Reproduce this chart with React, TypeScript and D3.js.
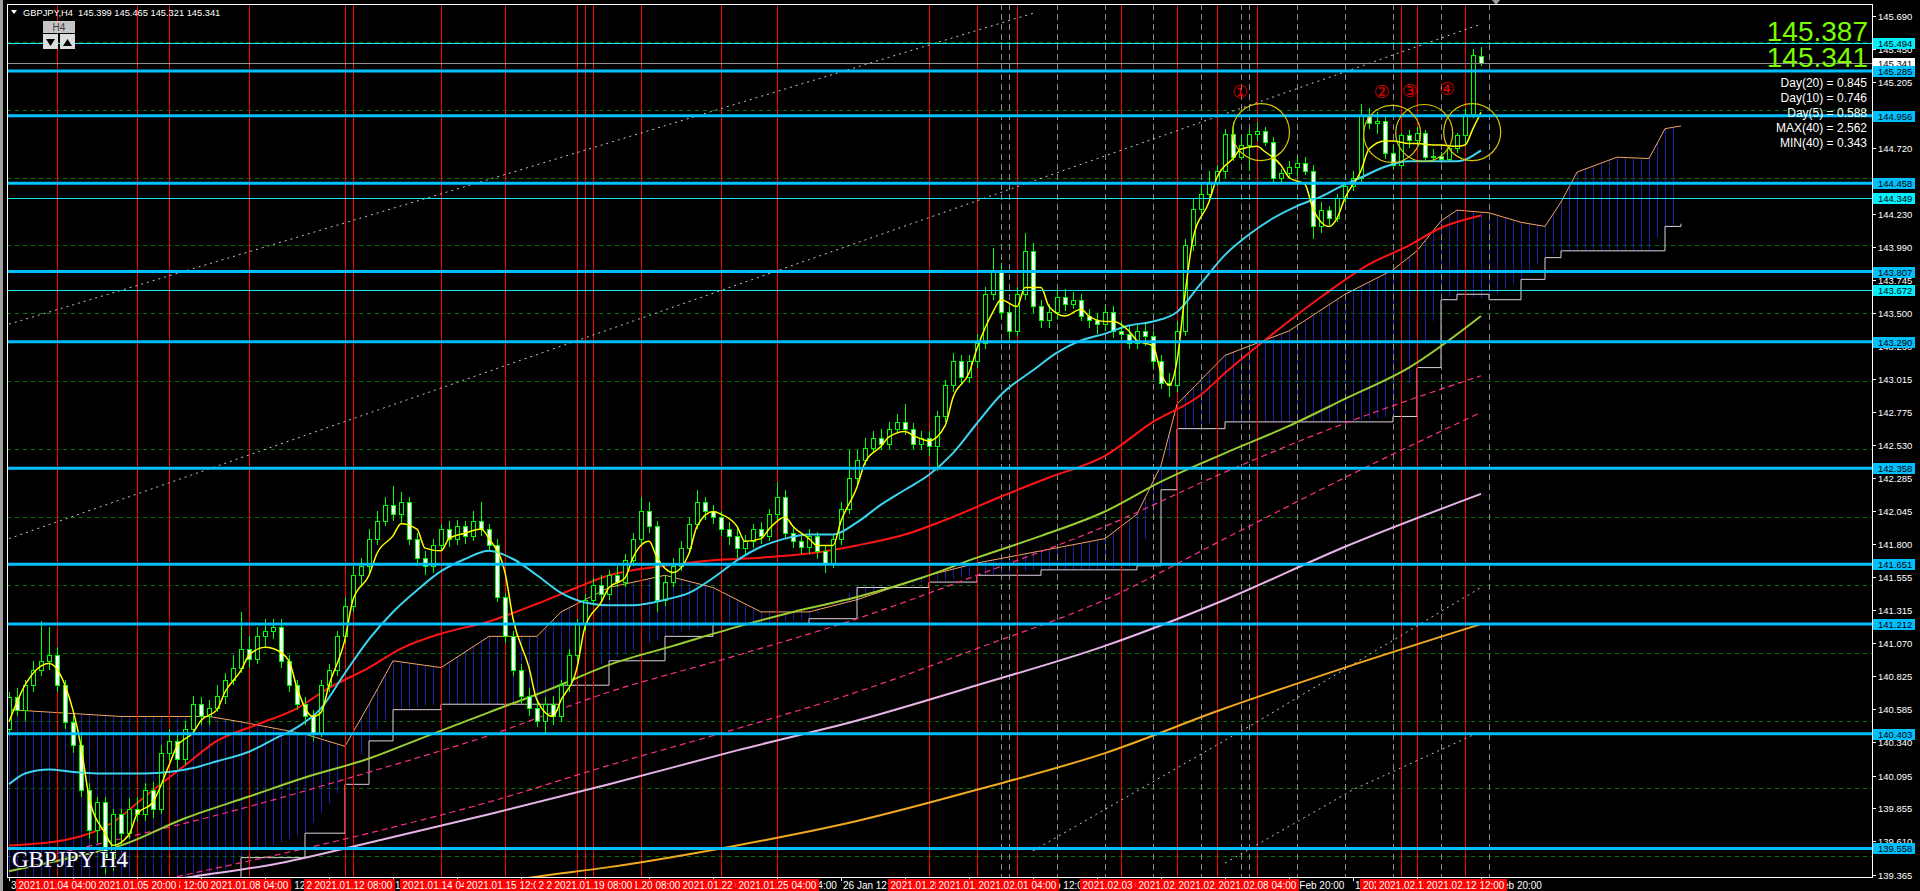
import React, { useEffect } from 'react';
import * as d3 from 'd3';

type OHLC = [number, number, number, number];
type Pt = [number, number];

// ---------- DATA ----------
// [open, high, low, close] per H4 bar, index 0 = 31 Dec 04:00, last = 12 Feb 20:00
const candles: OHLC[] = [
  [140.44,140.71,140.40,140.67],[140.67,140.74,140.53,140.58],[140.58,140.80,140.50,140.76],[140.76,140.94,140.71,140.87],
  [140.87,141.23,140.83,140.94],[140.94,141.19,140.87,140.98],[140.98,141.04,140.71,140.76],[140.76,140.80,140.44,140.49],
  [140.49,140.53,140.26,140.32],[140.32,140.40,139.94,139.99],[139.99,140.04,139.63,139.69],[139.69,139.94,139.60,139.90],
  [139.90,139.94,139.37,139.49],[139.49,139.85,139.39,139.81],[139.81,139.85,139.58,139.67],[139.67,139.93,139.63,139.85],
  [139.85,139.94,139.75,139.81],[139.81,140.04,139.76,139.99],[139.99,140.05,139.78,139.85],[139.85,140.32,139.81,140.26],
  [140.26,140.44,140.20,140.35],[140.35,140.40,140.14,140.22],[140.22,140.50,140.17,140.44],[140.44,140.68,140.40,140.62],
  [140.62,140.67,140.47,140.53],[140.53,140.65,140.47,140.59],[140.59,140.76,140.56,140.68],[140.68,140.85,140.62,140.80],
  [140.80,140.98,140.76,140.89],[140.89,141.30,140.85,141.03],[141.03,141.12,140.89,140.95],[140.95,141.19,140.92,141.12],
  [141.12,141.25,141.04,141.16],[141.16,141.25,141.10,141.19],[141.19,141.25,140.89,140.94],[140.94,140.98,140.71,140.76],
  [140.76,140.80,140.58,140.62],[140.62,140.67,140.47,140.53],[140.53,140.58,140.35,140.41],[140.41,140.80,140.38,140.76],
  [140.76,140.92,140.71,140.87],[140.87,141.16,140.83,141.12],[141.12,141.41,141.07,141.34],[141.34,141.64,141.30,141.57],
  [141.57,141.70,141.50,141.64],[141.64,141.91,141.59,141.84],[141.84,142.04,141.79,141.97],[141.97,142.15,141.93,142.09],
  [142.09,142.23,141.97,142.02],[142.02,142.18,141.95,142.11],[142.11,142.15,141.79,141.84],[141.84,141.88,141.64,141.70],
  [141.70,141.75,141.57,141.64],[141.64,141.84,141.59,141.79],[141.79,141.95,141.75,141.91],[141.91,141.97,141.78,141.84],
  [141.84,141.98,141.79,141.93],[141.93,141.97,141.80,141.86],[141.86,142.04,141.82,141.97],[141.97,142.11,141.86,141.91],
  [141.91,141.95,141.75,141.79],[141.79,141.84,141.37,141.41],[141.41,141.44,141.07,141.12],[141.12,141.16,140.83,140.87],
  [140.87,140.92,140.62,140.68],[140.68,140.74,140.53,140.59],[140.59,140.65,140.45,140.50],[140.50,140.67,140.40,140.62],
  [140.62,140.68,140.47,140.53],[140.53,140.80,140.49,140.76],[140.76,141.03,140.71,140.98],[140.98,141.25,140.94,141.21],
  [141.21,141.43,141.16,141.39],[141.39,141.55,141.34,141.50],[141.50,141.57,141.37,141.43],[141.43,141.61,141.39,141.57],
  [141.57,141.64,141.48,141.52],[141.52,141.73,141.48,141.68],[141.68,141.88,141.64,141.84],[141.84,142.15,141.79,142.04],
  [142.04,142.11,141.88,141.93],[141.93,141.97,141.30,141.39],[141.39,141.57,141.34,141.52],[141.52,141.70,141.48,141.64],
  [141.64,141.82,141.60,141.77],[141.77,142.00,141.73,141.95],[141.95,142.20,141.91,142.11],[142.11,142.15,141.98,142.04],
  [142.04,142.09,141.95,142.00],[142.00,142.04,141.86,141.91],[141.91,141.96,141.79,141.86],[141.86,141.91,141.70,141.77],
  [141.77,141.87,141.73,141.82],[141.82,141.95,141.77,141.91],[141.91,141.96,141.80,141.86],[141.86,142.06,141.82,142.02],
  [142.02,142.26,141.98,142.15],[142.15,142.20,141.84,141.88],[141.88,141.93,141.77,141.82],[141.82,141.87,141.73,141.78],
  [141.78,141.91,141.73,141.86],[141.86,141.89,141.69,141.75],[141.75,141.79,141.59,141.66],[141.66,141.87,141.62,141.84],
  [141.84,142.11,141.79,142.06],[142.06,142.49,142.02,142.29],[142.29,142.49,142.24,142.42],[142.42,142.58,142.38,142.51],
  [142.51,142.63,142.47,142.58],[142.58,142.65,142.49,142.54],[142.54,142.70,142.50,142.65],[142.65,142.76,142.61,142.70],
  [142.70,142.83,142.60,142.65],[142.65,142.69,142.50,142.54],[142.54,142.63,142.49,142.58],[142.58,142.63,142.45,142.52],
  [142.52,142.78,142.34,142.74],[142.74,143.01,142.70,142.97],[142.97,143.21,142.92,143.15],[143.15,143.19,142.98,143.03],
  [143.03,143.19,142.99,143.15],[143.15,143.35,143.10,143.28],[143.28,143.69,143.24,143.64],[143.64,143.98,143.60,143.82],
  [143.82,143.87,143.46,143.51],[143.51,143.55,143.32,143.37],[143.37,143.69,143.33,143.64],[143.64,144.09,143.60,143.96],
  [143.96,144.02,143.50,143.55],[143.55,143.60,143.39,143.45],[143.45,143.57,143.39,143.51],[143.51,143.68,143.46,143.62],
  [143.62,143.68,143.52,143.57],[143.57,143.66,143.53,143.60],[143.60,143.64,143.44,143.48],[143.48,143.53,143.39,143.45],
  [143.45,143.50,143.35,143.42],[143.42,143.55,143.37,143.51],[143.51,143.55,143.32,143.37],[143.37,143.44,143.30,143.35],
  [143.35,143.41,143.24,143.28],[143.28,143.42,143.24,143.37],[143.37,143.43,143.26,143.33],[143.33,143.37,143.10,143.15],
  [143.15,143.19,142.94,142.99],[142.99,143.06,142.88,142.97],[142.97,143.44,142.92,143.37],[143.37,144.05,143.33,144.00],
  [144.00,144.35,143.96,144.27],[144.27,144.46,144.23,144.38],[144.38,144.55,144.35,144.47],[144.47,144.59,144.44,144.55],
  [144.55,144.86,144.50,144.82],[144.82,144.91,144.62,144.65],[144.65,144.80,144.64,144.74],[144.74,144.86,144.55,144.82],
  [144.82,144.91,144.77,144.84],[144.84,144.87,144.73,144.76],[144.76,144.80,144.47,144.50],[144.50,144.56,144.46,144.53],
  [144.53,144.62,144.49,144.58],[144.58,144.65,144.51,144.61],[144.61,144.65,144.52,144.55],[144.55,144.59,144.05,144.14],
  [144.14,144.32,144.09,144.26],[144.26,144.29,144.15,144.20],[144.20,144.38,144.17,144.35],[144.35,144.47,144.31,144.44],
  [144.44,144.55,144.40,144.50],[144.50,145.04,144.47,144.95],[144.95,145.01,144.86,144.90],[144.90,144.98,144.82,144.92],
  [144.92,144.95,144.64,144.68],[144.68,144.74,144.56,144.59],[144.59,144.83,144.56,144.81],[144.81,144.85,144.72,144.78],
  [144.78,144.87,144.74,144.83],[144.83,144.85,144.62,144.65],[144.65,144.71,144.62,144.66],[144.66,144.69,144.61,144.64],
  [144.64,144.74,144.62,144.72],[144.72,144.83,144.68,144.81],[144.81,145.01,144.74,144.97],[144.97,145.45,144.94,145.40],
  [145.399,145.465,145.321,145.341],
];

// moving averages: [bar index, price]
const maYellow: Pt[] = [[0,140.49],[2,140.76],[5,140.92],[7,140.76],[9,140.31],[10,139.94],[12,139.67],[13,139.58],[15,139.66],[16,139.81],[18,139.90],[20,140.17],[21,140.31],[23,140.41],[24,140.50],[26,140.58],[27,140.71],[29,140.87],[30,140.98],[32,141.04],[33,141.03],[35,140.94],[36,140.74],[38,140.53],[39,140.56],[40,140.76],[42,141.10],[43,141.39],[45,141.57],[46,141.73],[48,141.86],[49,141.95],[51,141.91],[52,141.77],[54,141.75],[55,141.84],[57,141.88],[59,141.91],[60,141.84],[62,141.59],[63,141.25],[65,140.89],[66,140.65],[68,140.53],[69,140.65],[71,140.89],[72,141.19],[74,141.37],[75,141.48],[77,141.55],[78,141.70],[80,141.82],[81,141.70],[83,141.59],[85,141.73],[86,141.93],[88,142.04],[89,142.02],[91,141.93],[92,141.82],[94,141.84],[95,141.91],[97,142.00],[98,141.93],[100,141.84],[101,141.79],[103,141.79],[104,141.97],[106,142.22],[107,142.40],[109,142.52],[110,142.59],[112,142.63],[113,142.60],[115,142.56],[117,142.67],[118,142.88],[120,143.06],[121,143.24],[123,143.51],[124,143.60],[126,143.55],[127,143.69],[129,143.69],[130,143.55],[132,143.48],[134,143.53],[135,143.48],[137,143.44],[138,143.44],[140,143.37],[141,143.30],[143,143.26],[144,143.06],[145,142.97],[146,143.15],[147,143.64],[148,144.05],[150,144.32],[151,144.50],[153,144.64],[154,144.71],[156,144.73],[157,144.69],[159,144.59],[160,144.50],[162,144.45],[163,144.27],[165,144.14],[166,144.20],[167,144.35],[169,144.55],[170,144.71],[172,144.77],[173,144.77],[175,144.75],[176,144.75],[178,144.74],[179,144.74],[181,144.73],[182,144.74],[183,144.86],[184,144.98]];
const maCyan: Pt[] = [[0,140.03],[2,140.11],[5,140.14],[8,140.12],[11,140.11],[14,140.11],[17,140.11],[20,140.12],[23,140.15],[26,140.20],[30,140.27],[33,140.36],[36,140.45],[39,140.59],[42,140.85],[45,141.10],[48,141.30],[51,141.46],[54,141.60],[57,141.69],[60,141.75],[63,141.69],[66,141.57],[69,141.44],[72,141.37],[75,141.35],[78,141.35],[82,141.39],[85,141.44],[88,141.55],[91,141.68],[94,141.78],[97,141.84],[100,141.87],[103,141.87],[106,141.96],[109,142.09],[112,142.20],[115,142.31],[118,142.47],[121,142.69],[124,142.90],[128,143.08],[131,143.21],[134,143.30],[137,143.35],[140,143.41],[143,143.44],[146,143.51],[149,143.72],[152,143.93],[155,144.08],[158,144.20],[161,144.29],[164,144.36],[167,144.45],[169,144.50],[172,144.58],[175,144.62],[178,144.62],[181,144.62],[184,144.70]];
const maRed: Pt[] = [[0,139.58],[7,139.62],[13,139.75],[17,139.94],[22,140.17],[26,140.35],[31,140.47],[36,140.59],[40,140.74],[45,140.89],[49,141.03],[54,141.14],[60,141.23],[66,141.36],[71,141.48],[75,141.57],[82,141.64],[88,141.68],[94,141.70],[100,141.73],[106,141.79],[112,141.87],[118,142.00],[124,142.15],[130,142.29],[137,142.45],[143,142.70],[149,142.90],[152,143.06],[158,143.35],[164,143.62],[170,143.86],[175,144.00],[179,144.13],[184,144.22]];
const maYellowGreen: Pt[] = [[0,139.39],[7,139.48],[14,139.58],[22,139.78],[30,139.94],[37,140.08],[45,140.22],[52,140.38],[60,140.56],[68,140.74],[75,140.91],[83,141.05],[91,141.19],[98,141.30],[106,141.41],[114,141.55],[121,141.70],[129,141.86],[137,142.04],[144,142.26],[152,142.47],[160,142.67],[167,142.87],[175,143.10],[184,143.48]];
const maPlum: Pt[] = [[15,139.28],[23,139.35],[33,139.44],[45,139.60],[60,139.81],[75,140.03],[91,140.28],[106,140.50],[121,140.76],[137,141.05],[152,141.39],[167,141.78],[184,142.17]];
const maOrange: Pt[] = [[58,139.28],[66,139.35],[75,139.42],[91,139.58],[106,139.76],[121,139.99],[137,140.26],[152,140.59],[167,140.89],[184,141.21]];
const maPinkUpper: Pt[] = [[6,139.52],[29,139.85],[45,140.12],[60,140.39],[75,140.71],[91,140.98],[106,141.25],[121,141.57],[137,141.93],[152,142.33],[167,142.69],[184,143.04]];
const maPinkLower: Pt[] = [[21,139.35],[45,139.67],[60,139.90],[75,140.17],[91,140.44],[106,140.71],[121,141.03],[137,141.39],[152,141.84],[167,142.29],[184,142.77]];
const dotUpper1: Pt[] = [[0,143.42],[63,144.54],[128,145.71]];
const dotUpper2: Pt[] = [[0,141.84],[92,143.73],[184,145.63]];
const dotLower1: Pt[] = [[128,139.54],[156,140.49],[184,141.48]];
const dotLower2: Pt[] = [[152,139.45],[168,139.99],[184,140.42]];

// Ichimoku cloud: [bar index, senkou A, senkou B]
const cloud: [number, number, number][] = [
  [0,140.58,139.31],[14,140.53,139.31],[25,140.53,139.31],[29,140.49,139.49],[37,140.40,139.67],[42,140.31,140.03],
  [45,140.62,140.35],[48,140.94,140.58],[54,140.89,140.62],[60,141.12,140.62],[66,141.12,140.62],[69,141.30,140.76],
  [75,141.48,140.94],[82,141.57,141.12],[88,141.48,141.21],[94,141.30,141.21],[100,141.30,141.25],[106,141.39,141.48],
  [115,141.57,141.52],[121,141.66,141.57],[129,141.75,141.61],[137,141.84,141.61],[141,142.02,141.64],[144,142.38,142.20],
  [146,142.83,142.65],[152,143.19,142.70],[160,143.37,142.70],[167,143.64,142.70],[173,143.82,142.74],[176,143.96,143.10],
  [179,144.18,143.60],[181,144.26,143.64],[185,144.24,143.60],[189,144.17,143.75],[192,144.14,143.91],[194,144.32,143.96],
  [196,144.54,143.96],[201,144.65,143.96],[205,144.64,143.96],[207,144.86,144.14],[209,144.88,144.16],
];

const priceTicks = [145.690,145.450,145.205,144.965,144.720,144.475,144.230,143.990,143.745,143.500,143.260,143.015,142.775,142.530,142.285,142.045,141.800,141.555,141.315,141.070,140.825,140.585,140.340,140.095,139.855,139.610,139.365];
const thickLevels = [145.285,144.956,144.458,143.807,143.290,142.358,141.651,141.212,140.403,139.558];
const thinLevels = [145.494,144.349,143.672];
const roundLevels = [145.5,145.0,144.5,144.0,143.5,143.0,142.5,142.0,141.5,141.0,140.5,140.0,139.5];
const currentPrice = 145.341;

const axisLabelIdx = [0,8,16,24,32,40,48,56,64,72,80,88,96,104,112,120,128,136,144,152,160,168,176,184];
const axisLabels = ['31 Dec 04:00','4 Jan 12:00','5 Jan 20:00','7 Jan 04:00','8 Jan 12:00','11 Jan 20:00','13 Jan 04:00','14 Jan 12:00','15 Jan 20:00','19 Jan 04:00','20 Jan 12:00','21 Jan 20:00','25 Jan 04:00','26 Jan 12:00','27 Jan 20:00','29 Jan 04:00','1 Feb 12:00','2 Feb 20:00','4 Feb 04:00','5 Feb 12:00','8 Feb 20:00','10 Feb 04:00','11 Feb 12:00','12 Feb 20:00'];

const markerIdx = [6,20,16,30,42,43,54,62,71,72,79,73,89,96,115,121,126,139,146,151,156,174,176,182];
const markerLabels = ['2021.01.04 04:00','2021.01.06 12:00','2021.01.05 20:00','2021.01.08 04:00','2021.01.12 04:00','2021.01.12 08:00','2021.01.14 04:00','2021.01.15 12:00','2021.01.19 00:00','2021.01.19 04:00','2021.01.20 08:00','2021.01.19 08:00','2021.01.22 00:00','2021.01.25 04:00','2021.01.28 08:00','2021.01.29 08:00','2021.02.01 04:00','2021.02.03 08:00','2021.02.04 12:00','2021.02.05 08:00','2021.02.08 04:00','2021.02.11 04:00','2021.02.11 12:00','2021.02.12 12:00'];
const separatorIdx = [124,125,131,137,143,149,154,155,161,167,173,179,185];

const circleIdx = [156.5,172.9,176.9,182.9];
const circlePrice = [144.835,144.821,144.828,144.835];
const circleNums = ['①','②','③','④'];
const numIdx = [153.9,171.6,175.1,179.75];
const numPrice = [145.13,145.13,145.137,145.152];

const headerText = 'GBPJPY,H4  145.399 145.465 145.321 145.341';
const bigPrices = ['145.387','145.341'];
const infoLines = ['Day(20) = 0.845','Day(10) = 0.746','Day(5) = 0.588','MAX(40) = 2.562','MIN(40) = 0.343'];

// ---------- CHART ----------
const L = 7, R = 1872, T = 4, B = 877;
const FONT = '"Liberation Sans", Arial, sans-serif';

export default function App() {
  useEffect(() => {
    document.body.style.margin = '0';
    document.body.style.background = '#000';
  }, []);

  const x = d3.scaleLinear().domain([0, 184]).range([9, 1481]);
  const y = d3.scaleLinear().domain([139.365, 145.69]).range([874.6, 16]);

  const line = d3.line<Pt>().x(d => x(d[0])).y(d => y(d[1])).curve(d3.curveMonotoneX);
  const straight = d3.line<Pt>().x(d => x(d[0])).y(d => y(d[1]));
  const area = d3.area<[number, number, number]>().x(d => x(d[0])).y0(d => y(d[2])).y1(d => y(d[1]));
  const spanA = d3.line<[number, number, number]>().x(d => x(d[0])).y(d => y(d[1]));
  const spanB = d3.line<[number, number, number]>().x(d => x(d[0])).y(d => y(d[2])).curve(d3.curveStepAfter);

  const labelBox = (p: number, fill: string, key: string, text: string) => (
    <g key={key}>
      <rect x={1873} y={Math.round(y(p)) - 5} width={42} height={11} fill={fill} />
      <text x={1878} y={Math.round(y(p)) + 4} fontSize={9.5} fill="#000">{text}</text>
    </g>
  );

  return (
    <svg width={1920} height={891} style={{ display: 'block', background: '#000' }} fontFamily={FONT}>
      <defs>
        <clipPath id="plotClip"><rect x={L} y={T} width={R - L} height={B - T} /></clipPath>
        <pattern id="hatch" patternUnits="userSpaceOnUse" x={9} y={0} width={8} height={8}>
          <rect x={0} y={0} width={1} height={8} fill="#1e1ea6" />
        </pattern>
      </defs>
      <rect x={0} y={0} width={1920} height={891} fill="#000" />
      <rect x={0} y={0} width={3} height={891} fill="#a0a0a0" />

      <g clipPath="url(#plotClip)">
        {roundLevels.map(p => (
          <line key={'g' + p} x1={L} x2={R} y1={Math.round(y(p)) + 0.5} y2={Math.round(y(p)) + 0.5} stroke="#007a00" strokeDasharray="4 4" />
        ))}
        <path d={area(cloud) || ''} fill="url(#hatch)" />
        <path d={spanA(cloud) || ''} fill="none" stroke="#f4a460" strokeWidth={1} />
        <path d={spanB(cloud) || ''} fill="none" stroke="#e0d0e0" strokeWidth={1} />

        {separatorIdx.map(i => (
          <line key={'s' + i} x1={x(i) + 0.5} x2={x(i) + 0.5} y1={T} y2={B} stroke="#8a8a8a" strokeDasharray="6 4" />
        ))}
        {markerIdx.map(i => (
          <line key={'m' + i} x1={x(i) + 0.5} x2={x(i) + 0.5} y1={T} y2={B} stroke="#ff0000" />
        ))}

        {[dotUpper1, dotUpper2, dotLower1, dotLower2].map((d, k) => (
          <path key={'d' + k} d={straight(d) || ''} fill="none" stroke="#c8c8c8" strokeDasharray="2 4" />
        ))}
        <path d={line(maPinkUpper) || ''} fill="none" stroke="#ff2d8c" strokeWidth={1.2} strokeDasharray="6 4" />
        <path d={line(maPinkLower) || ''} fill="none" stroke="#ff2d8c" strokeWidth={1.2} strokeDasharray="6 4" />
        <path d={line(maOrange) || ''} fill="none" stroke="#f0a820" strokeWidth={2} />
        <path d={line(maPlum) || ''} fill="none" stroke="#e8b4e8" strokeWidth={2} />
        <path d={line(maYellowGreen) || ''} fill="none" stroke="#9acd32" strokeWidth={2} />
        <path d={line(maRed) || ''} fill="none" stroke="#ff1414" strokeWidth={2} />

        {candles.map((c, i) => {
          const [o, h, l, cl] = c;
          const cx = x(i);
          const top = Math.round(y(Math.max(o, cl)));
          const bot = Math.round(y(Math.min(o, cl)));
          return (
            <g key={'c' + i} shapeRendering="crispEdges">
              <line x1={cx + 0.5} x2={cx + 0.5} y1={Math.round(y(h))} y2={Math.round(y(l))} stroke="#00ff00" />
              <rect x={cx - 1.5} y={top + 0.5} width={4} height={Math.max(bot - top, 1)} fill={cl >= o ? '#000' : '#fff'} stroke="#00ff00" />
            </g>
          );
        })}

        <path d={line(maCyan) || ''} fill="none" stroke="#3cd4f0" strokeWidth={2} />
        <path d={line(maYellow) || ''} fill="none" stroke="#ffff00" strokeWidth={1.5} />

        <line x1={L} x2={R} y1={Math.round(y(currentPrice)) + 0.5} y2={Math.round(y(currentPrice)) + 0.5} stroke="#909090" />
        {thinLevels.map(p => (
          <line key={'t' + p} x1={L} x2={R} y1={Math.round(y(p)) + 0.5} y2={Math.round(y(p)) + 0.5} stroke="#16e6f0" />
        ))}
        {thickLevels.map(p => (
          <line key={'k' + p} x1={L} x2={R} y1={y(p)} y2={y(p)} stroke="#00bfff" strokeWidth={3} />
        ))}

        {circleIdx.map((ci, k) => (
          <circle key={'o' + k} cx={x(ci)} cy={y(circlePrice[k])} r={28.5} fill="none" stroke="#d8c800" strokeWidth={1.2} />
        ))}
        {numIdx.map((ni, k) => (
          <text key={'n' + k} x={x(ni)} y={y(numPrice[k]) + 6} fontSize={18} fill="#e00000" textAnchor="middle" fontFamily='"DejaVu Sans", sans-serif'>{circleNums[k]}</text>
        ))}

        {bigPrices.map((t, k) => (
          <text key={'b' + k} x={1868} y={41 + k * 26} fontSize={28} fill="#7cfc00" textAnchor="end">{t}</text>
        ))}
        {infoLines.map((t, k) => (
          <text key={'i' + k} x={1867} y={87 + k * 15} fontSize={12} fill="#fff" textAnchor="end">{t}</text>
        ))}
        <text x={12} y={867} fontSize={23} fill="#fff" stroke="#101040" strokeWidth={2} paintOrder="stroke" fontFamily='"Liberation Serif", "Times New Roman", serif'>GBPJPY H4</text>
      </g>

      <polygon points="11,10 17,10 14,14" fill="#fff" />
      <text x={23} y={16} fontSize={9.3} fill="#fff" style={{ whiteSpace: 'pre' }}>{headerText}</text>
      <rect x={43} y={21} width={32} height={12} fill="#c4c4c4" />
      <text x={59} y={31} fontSize={10} fill="#404040" textAnchor="middle">H4</text>
      <rect x={43} y={34} width={15} height={15} fill="#dcdcdc" />
      <rect x={60} y={34} width={15} height={15} fill="#dcdcdc" />
      <polygon points="46,39 55,39 50.5,46" fill="#000" />
      <polygon points="63,46 72,46 67.5,39" fill="#000" />
      <polygon points="1492,0 1500,0 1496,5" fill="#a0a0a0" />

      <line x1={L + 0.5} x2={L + 0.5} y1={T} y2={B} stroke="#fff" />
      <line x1={L} x2={R} y1={T + 0.5} y2={T + 0.5} stroke="#fff" />
      <line x1={R + 0.5} x2={R + 0.5} y1={T} y2={B + 1} stroke="#fff" />
      <line x1={L} x2={R + 1} y1={B + 0.5} y2={B + 0.5} stroke="#fff" />

      {priceTicks.map(p => (
        <g key={'p' + p}>
          <line x1={R} x2={R + 4} y1={Math.round(y(p)) + 0.5} y2={Math.round(y(p)) + 0.5} stroke="#fff" />
          <text x={1878} y={Math.round(y(p)) + 4} fontSize={9.5} fill="#fff">{p.toFixed(3)}</text>
        </g>
      ))}
      {thinLevels.map(p => labelBox(p, '#00f0ff', 'lt' + p, p.toFixed(3)))}
      {labelBox(currentPrice, '#ffffff', 'cur', currentPrice.toFixed(3))}
      {thickLevels.map(p => labelBox(p, '#00bfff', 'lk' + p, p.toFixed(3)))}

      {axisLabelIdx.map((i, k) => (
        <g key={'a' + i}>
          <line x1={x(i) + 0.5} x2={x(i) + 0.5} y1={B} y2={B + 4} stroke="#fff" />
          <text x={x(i) + 2} y={889} fontSize={10} fill="#fff">{axisLabels[k]}</text>
        </g>
      ))}
      {markerIdx.map((i, k) => (
        <g key={'ml' + k}>
          <rect x={x(i) - 41} y={879} width={83} height={12} fill="#ff0000" />
          <text x={x(i) + 0.5} y={889} fontSize={10} fill="#fff" textAnchor="middle">{markerLabels[k]}</text>
        </g>
      ))}
    </svg>
  );
}
